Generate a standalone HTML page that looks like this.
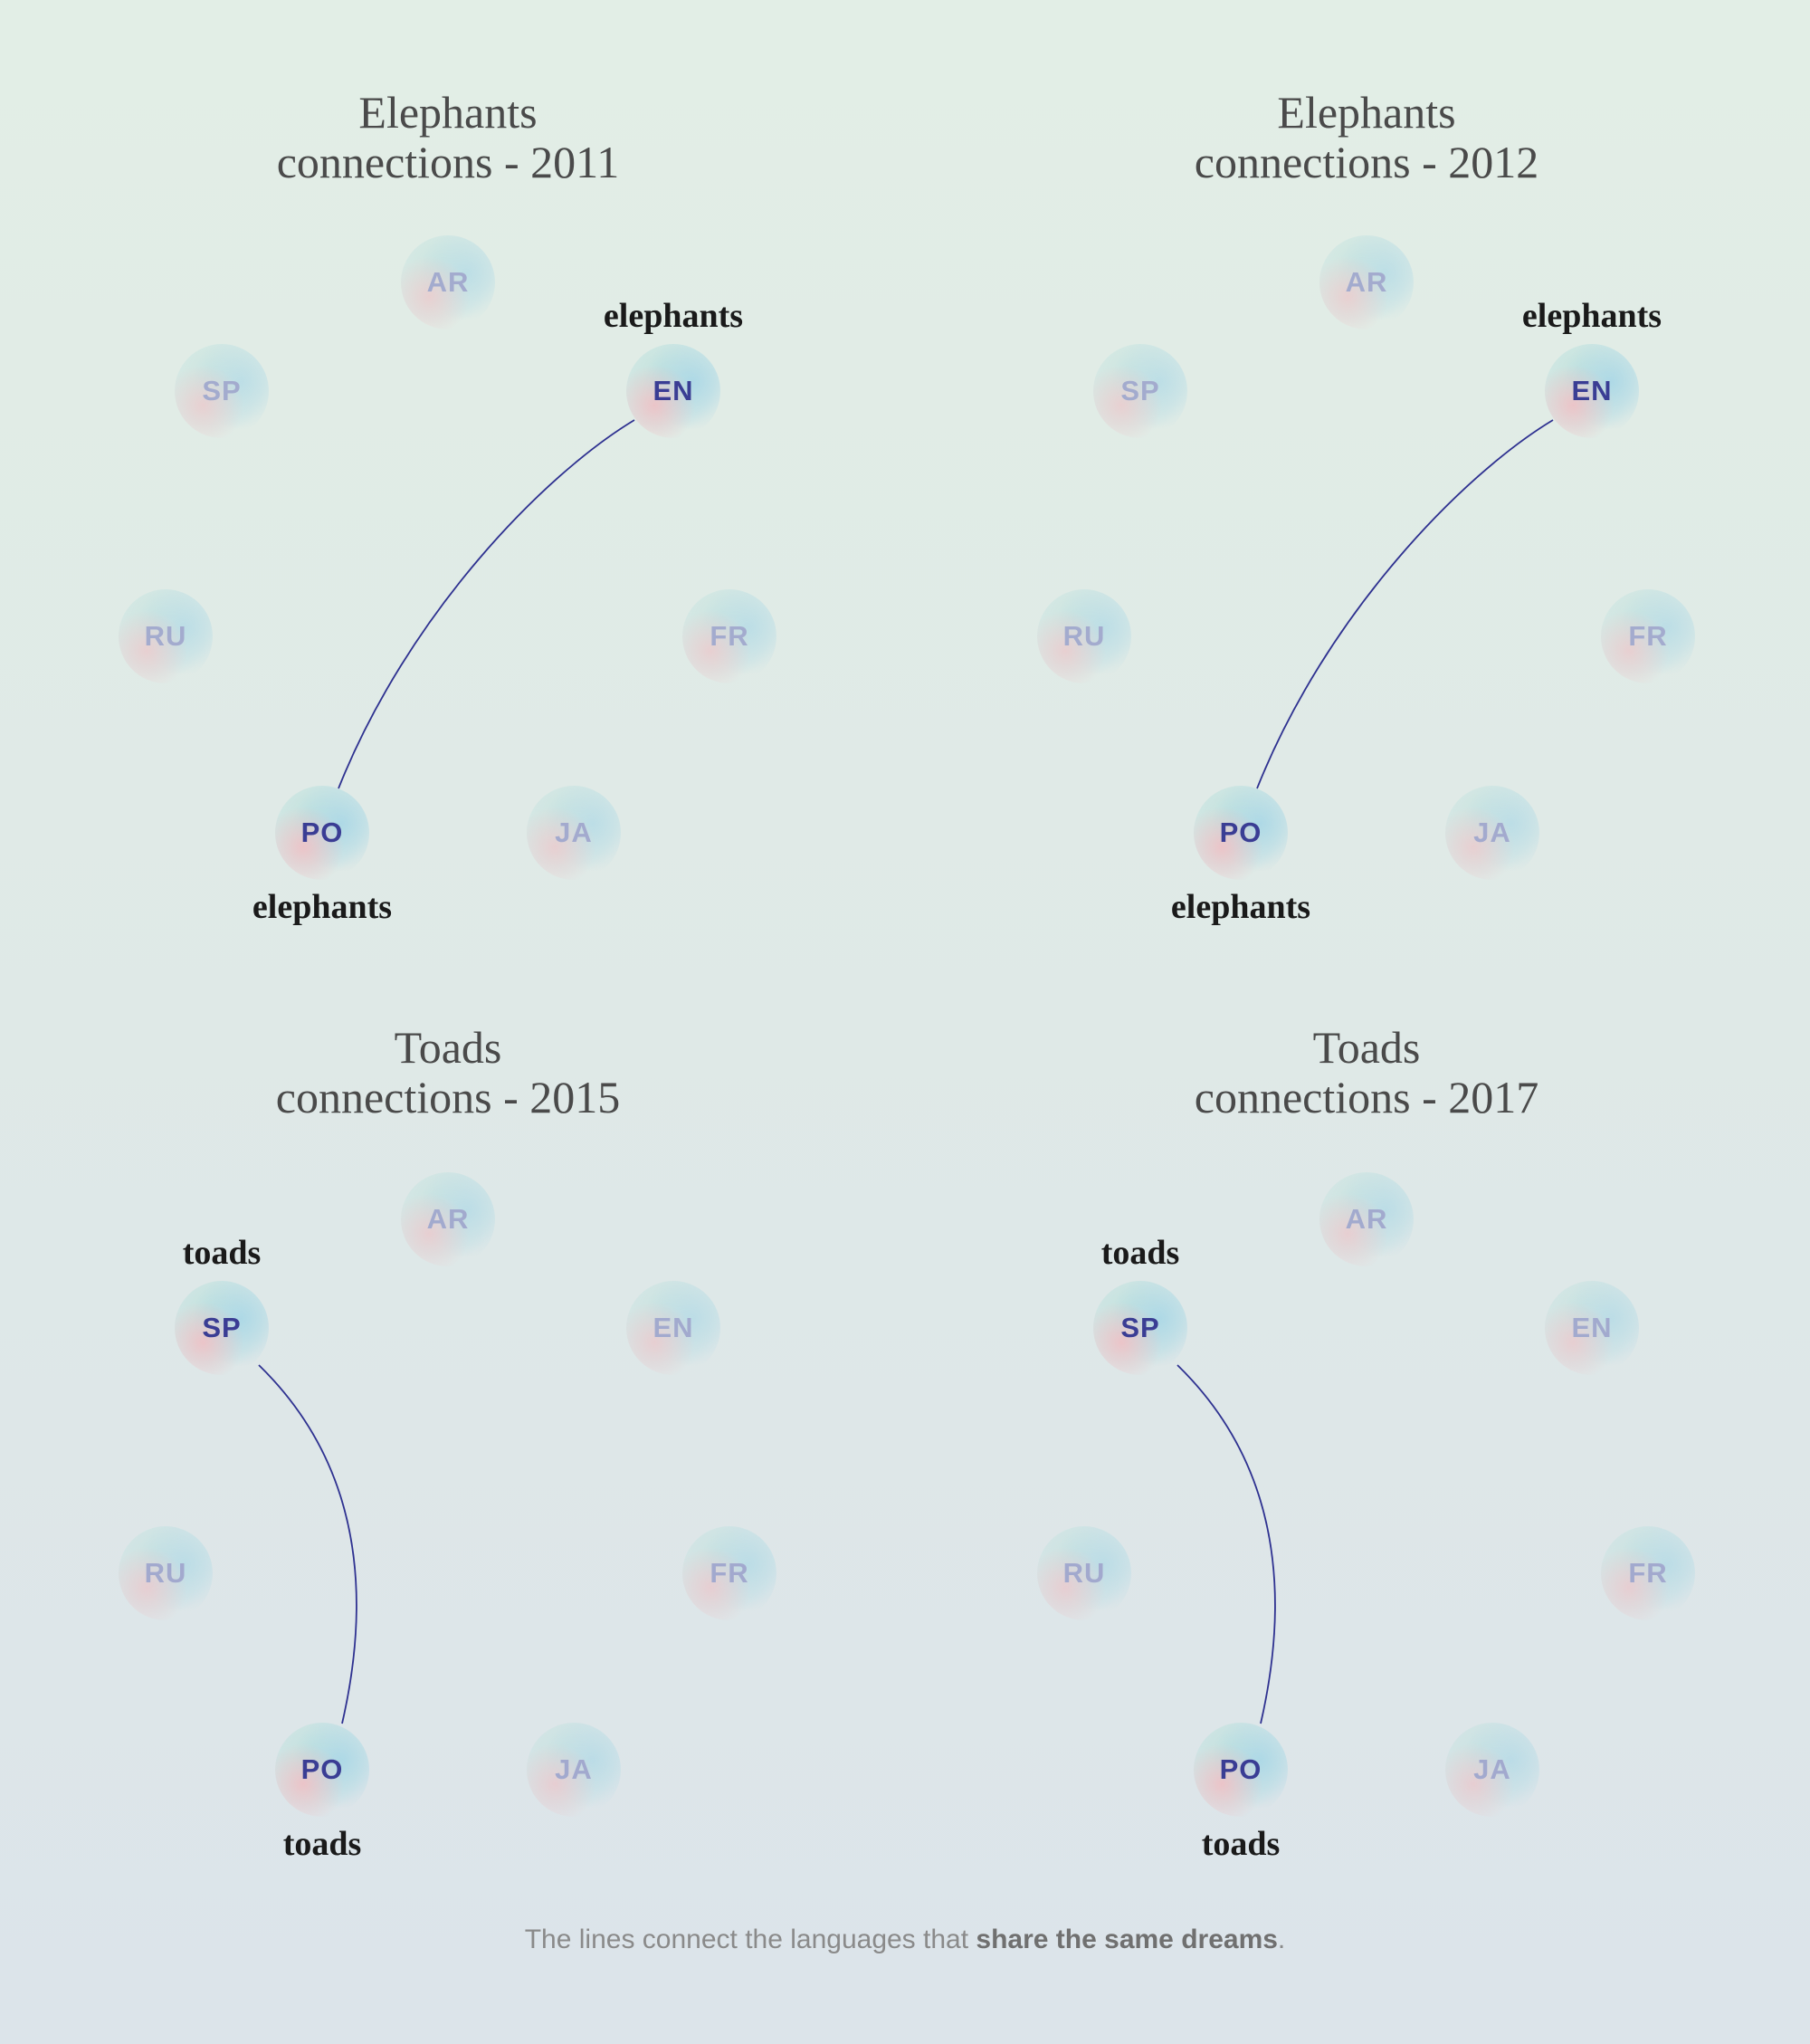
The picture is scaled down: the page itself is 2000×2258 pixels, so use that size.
<!DOCTYPE html>
<html><head><meta charset="utf-8"><style>
html,body{margin:0;padding:0}
body{width:2000px;height:2258px;position:relative;overflow:hidden;background:linear-gradient(180deg,#e2eee6 0%,#dfe9e7 50%,#dce4ea 100%);font-family:"Liberation Sans",sans-serif}
.t{position:absolute;width:600px;text-align:center;font-family:"Liberation Serif",serif;color:#4a4a4a;font-size:50px;line-height:55px}
.n{position:absolute;width:104px;height:104px;border-radius:50%;margin:-52px 0 0 -52px;
background:radial-gradient(circle at 30% 65%,rgba(240,190,195,.85) 0%,rgba(240,190,195,0) 45%),radial-gradient(circle at 70% 40%,rgba(170,215,230,.9) 0%,rgba(170,215,230,0) 55%),radial-gradient(circle at 40% 30%,rgba(190,225,220,.85) 0%,rgba(200,228,228,.4) 60%,rgba(220,235,235,0) 72%);
display:flex;align-items:center;justify-content:center;font-weight:bold;font-size:31px;letter-spacing:1px}
.f{opacity:.7;color:#8a90c4}
.a{color:#3a3d94}
.w{position:absolute;width:300px;margin-left:-150px;text-align:center;font-family:"Liberation Serif",serif;font-weight:bold;font-size:38px;color:#1a1a1a}
.ft{position:absolute;top:2126px;left:0;width:2000px;text-align:center;font-size:30px;color:#8a8a8a}
</style></head><body>
<svg width="2000" height="2258" style="position:absolute;left:0;top:0">
<g fill="none" stroke="#2e3190" stroke-width="1.8">
<path d="M701,464 C600,525 450,680 374,871"/>
<path d="M1716,464 C1615,525 1465,680 1389,871"/>
<path d="M286,1508 C360,1580 425,1700 378,1904"/>
<path d="M1301,1508 C1375,1580 1440,1700 1393,1904"/>
</g></svg>

<div class="t" style="left:195px;top:97px">Elephants<br>connections - 2011</div>
<div class="t" style="left:1210px;top:97px">Elephants<br>connections - 2012</div>
<div class="t" style="left:195px;top:1130px">Toads<br>connections - 2015</div>
<div class="t" style="left:1210px;top:1130px">Toads<br>connections - 2017</div>

<div class="n f" style="left:495px;top:312px">AR</div>
<div class="n f" style="left:245px;top:432px">SP</div>
<div class="n a" style="left:744px;top:432px">EN</div>
<div class="n f" style="left:183px;top:703px">RU</div>
<div class="n f" style="left:806px;top:703px">FR</div>
<div class="n a" style="left:356px;top:920px">PO</div>
<div class="n f" style="left:634px;top:920px">JA</div>
<div class="w" style="left:744px;top:327px">elephants</div>
<div class="w" style="left:356px;top:980px">elephants</div>

<div class="n f" style="left:1510px;top:312px">AR</div>
<div class="n f" style="left:1260px;top:432px">SP</div>
<div class="n a" style="left:1759px;top:432px">EN</div>
<div class="n f" style="left:1198px;top:703px">RU</div>
<div class="n f" style="left:1821px;top:703px">FR</div>
<div class="n a" style="left:1371px;top:920px">PO</div>
<div class="n f" style="left:1649px;top:920px">JA</div>
<div class="w" style="left:1759px;top:327px">elephants</div>
<div class="w" style="left:1371px;top:980px">elephants</div>

<div class="n f" style="left:495px;top:1347px">AR</div>
<div class="n a" style="left:245px;top:1467px">SP</div>
<div class="n f" style="left:744px;top:1467px">EN</div>
<div class="n f" style="left:183px;top:1738px">RU</div>
<div class="n f" style="left:806px;top:1738px">FR</div>
<div class="n a" style="left:356px;top:1955px">PO</div>
<div class="n f" style="left:634px;top:1955px">JA</div>
<div class="w" style="left:245px;top:1362px">toads</div>
<div class="w" style="left:356px;top:2015px">toads</div>

<div class="n f" style="left:1510px;top:1347px">AR</div>
<div class="n a" style="left:1260px;top:1467px">SP</div>
<div class="n f" style="left:1759px;top:1467px">EN</div>
<div class="n f" style="left:1198px;top:1738px">RU</div>
<div class="n f" style="left:1821px;top:1738px">FR</div>
<div class="n a" style="left:1371px;top:1955px">PO</div>
<div class="n f" style="left:1649px;top:1955px">JA</div>
<div class="w" style="left:1260px;top:1362px">toads</div>
<div class="w" style="left:1371px;top:2015px">toads</div>

<div class="ft">The lines connect the languages that <b style="color:#707070">share the same dreams</b>.</div>
</body></html>
